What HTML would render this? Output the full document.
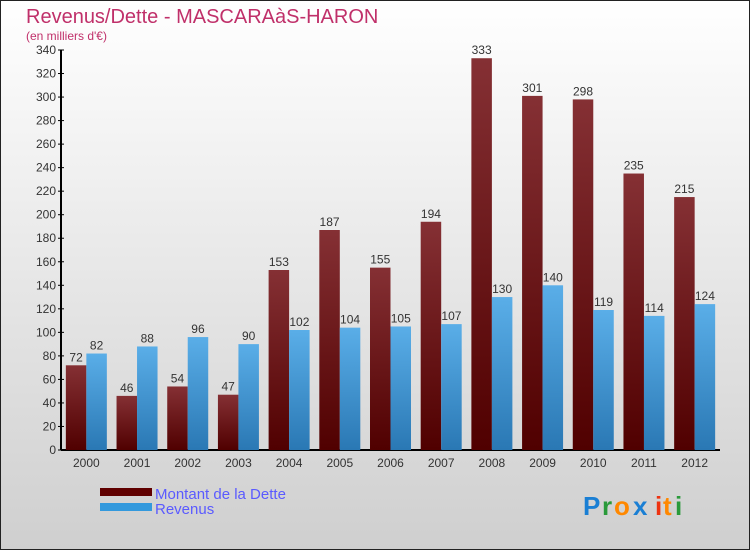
<!DOCTYPE html>
<html><head><meta charset="utf-8"><style>
body{margin:0}
#c{width:750px;height:550px;position:relative;overflow:hidden}
text{font-family:"Liberation Sans",sans-serif}
</style></head><body>
<div id="c">
<svg id="s" width="750" height="550" xmlns="http://www.w3.org/2000/svg">
<defs>
<linearGradient id="bg" x1="0" y1="0" x2="0" y2="1"><stop offset="0" stop-color="#ffffff"/><stop offset="1" stop-color="#cfcfcf"/></linearGradient>
<linearGradient id="gd" x1="0" y1="0" x2="0" y2="1"><stop offset="0" stop-color="#853034"/><stop offset="1" stop-color="#500000"/></linearGradient>
<linearGradient id="gr" x1="0" y1="0" x2="0" y2="1"><stop offset="0" stop-color="#5aaee8"/><stop offset="1" stop-color="#2a78b4"/></linearGradient>
</defs>
<rect x="0.5" y="0.5" width="749" height="549" fill="url(#bg)" stroke="#222"/>
<text x="26" y="23" font-size="20" fill="#c0306a">Revenus/Dette - MASCARAàS-HARON</text>
<text x="26" y="40" font-size="12" fill="#c0306a">(en milliers d'€)</text>
<g id="axes"></g>
<g id="bars"></g>
<rect x="100" y="488" width="52" height="8" fill="#600000"/>
<text x="155" y="499" font-size="15" fill="#5a5aff">Montant de la Dette</text>
<rect x="100" y="503" width="52" height="8" fill="#3399dd"/>
<text x="155" y="514" font-size="15" fill="#5a5aff">Revenus</text>
<g font-size="26" font-weight="bold">
<text x="583" y="515" fill="#1a7fd4">P</text><text x="602" y="515" fill="#2a9a3a">r</text><text x="614" y="515" fill="#ff8800">o</text><text x="633" y="515" fill="#1a7fd4">x</text><text x="655" y="515" fill="#ee3311">i</text><text x="663" y="515" fill="#ff8800">t</text><text x="675" y="515" fill="#2a9a3a">i</text>
</g>
</svg>
</div>
<script>
const years=["2000","2001","2002","2003","2004","2005","2006","2007","2008","2009","2010","2011","2012"];
const dette=[72,46,54,47,153,187,155,194,333,301,298,235,215];
const revenus=[82,88,96,90,102,104,105,107,130,140,119,114,124];
const yTicks=[0,20,40,60,80,100,120,140,160,180,200,220,240,260,280,300,320,340];
const NS="http://www.w3.org/2000/svg";
const x0=61,x1=720,yBase=450,yTop=50,yMax=340;
const step=(x1-x0)/years.length;
function y(v){return yBase-(v/yMax)*(yBase-yTop);}
function cx(i){return x0+(i+0.5)*step;}
function mk(tag,attrs,parent){const e=document.createElementNS(NS,tag);for(const k in attrs)e.setAttribute(k,attrs[k]);parent.appendChild(e);return e;}
const ax=document.getElementById('axes'),bs=document.getElementById('bars');
const yl=mk('line',{x1:x0,y1:yTop,x2:x0,y2:yBase,stroke:'#000','stroke-width':2},ax);


const xl=mk('line',{x1:x0,y1:yBase,x2:x1,y2:yBase,stroke:'#000','stroke-width':2},ax);


yTicks.forEach(t=>{
 const tk=mk('line',{x1:x0-3,y1:y(t),x2:x0+3,y2:y(t),stroke:'#000'},ax);
 
 
 const tl=mk('text',{x:x0-5,y:y(t)+4,'font-size':12,'text-anchor':'end',fill:'#333'},ax);
 tl.textContent=t;
 
 
});
const bw=20.5;
years.forEach((yr,i)=>{
 const c=cx(i);
 const xlab=mk('text',{x:c,y:467,'font-size':12,'text-anchor':'middle',fill:'#333'},ax);
 xlab.textContent=yr;
 
 
 const b1=mk('rect',{x:c-bw,y:y(dette[i]),width:bw,height:yBase-y(dette[i]),fill:'url(#gd)'},bs);
 
 
 const b2=mk('rect',{x:c,y:y(revenus[i]),width:bw,height:yBase-y(revenus[i]),fill:'url(#gr)'},bs);
 
 
 const l1=mk('text',{x:c-bw/2,y:y(dette[i])-4,'font-size':12,'text-anchor':'middle',fill:'#333'},bs);
 l1.textContent=dette[i];
 
 
 const l2=mk('text',{x:c+bw/2,y:y(revenus[i])-4,'font-size':12,'text-anchor':'middle',fill:'#333'},bs);
 l2.textContent=revenus[i];
 
 
});
</script>
</body></html>
